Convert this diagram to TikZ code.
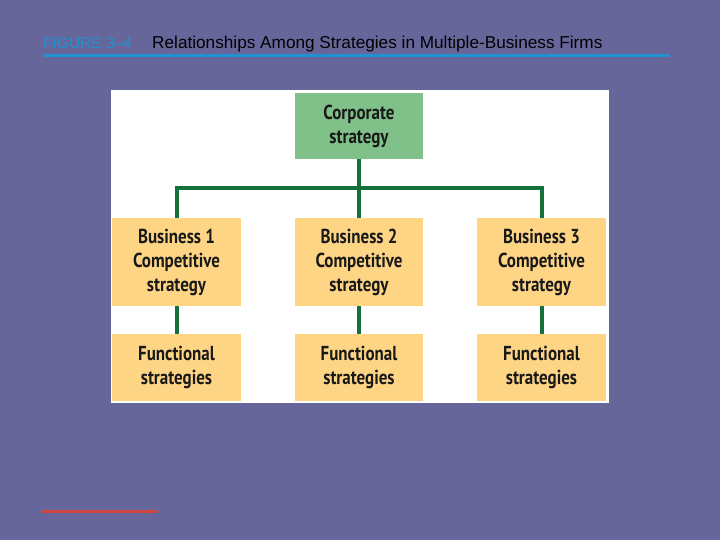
\documentclass[tikz,border=0pt]{standalone}
\usepackage{fontspec}
\setmainfont{Liberation Sans}
\newfontfamily\boxfont[FakeStretch=0.84]{PT Sans Bold}
\definecolor{bgc}{HTML}{67669A}
\definecolor{figblue}{HTML}{1F93CF}
\definecolor{corpgreen}{HTML}{80C18A}
\definecolor{bizorange}{HTML}{FDD585}
\definecolor{linkgreen}{HTML}{16703A}
\definecolor{linkred}{HTML}{E8402A}
\tikzset{
  x=1pt,y=-1pt,
  stratbox/.style={draw=none,inner sep=0pt,align=center,
    font=\boxfont\fontsize{20.2}{24}\selectfont,text=black!90},
  conn/.style={draw=linkgreen,line width=4pt}
}
\begin{document}
\begin{tikzpicture}
\fill[bgc] (0,0) rectangle (720,540);
\useasboundingbox (0,0) rectangle (720,540);
% title
\node[anchor=base west,inner sep=0pt,text=figblue,font=\fontsize{15.5}{18}\selectfont] (fig) at (43,48.5) {FIGURE 3--4};
\node[anchor=base west,inner sep=0pt,text=black,font=\fontsize{17.2}{20}\selectfont] (title) at (152,48.5) {Relationships Among Strategies in Multiple-Business Firms};
\draw[figblue,line width=3pt] (43,55.5) -- (670,55.5);
% panel
\fill[white] (111,90) rectangle (609,403);
% boxes
\node[stratbox,fill=corpgreen,minimum width=128pt,minimum height=66pt] (corp) at (359,126) {Corporate\\strategy};
\node[stratbox,fill=bizorange,minimum width=129pt,minimum height=88pt] (b1) at (176.5,262) {Business 1\\Competitive\\strategy};
\node[stratbox,fill=bizorange,minimum width=128pt,minimum height=88pt] (b2) at (359,262) {Business 2\\Competitive\\strategy};
\node[stratbox,fill=bizorange,minimum width=129pt,minimum height=88pt] (b3) at (541.5,262) {Business 3\\Competitive\\strategy};
\node[stratbox,fill=bizorange,minimum width=129pt,minimum height=67pt] (f1) at (176.5,367.5) {Functional\\strategies};
\node[stratbox,fill=bizorange,minimum width=128pt,minimum height=67pt] (f2) at (359,367.5) {Functional\\strategies};
\node[stratbox,fill=bizorange,minimum width=129pt,minimum height=67pt] (f3) at (541.5,367.5) {Functional\\strategies};
% connectors
\coordinate (bus) at (359,188);
\draw[conn] (corp.south) -- (b2.north);
\draw[conn] (b1.north) |- (bus) -| (b3.north);
\draw[conn] (b1.south) -- (f1.north);
\draw[conn] (b2.south) -- (f2.north);
\draw[conn] (b3.south) -- (f3.north);
% footer link (illegible in reference)
\fill[linkred,opacity=0.8] (42,509.5) rectangle (158,512.5);
\end{tikzpicture}
\end{document}
